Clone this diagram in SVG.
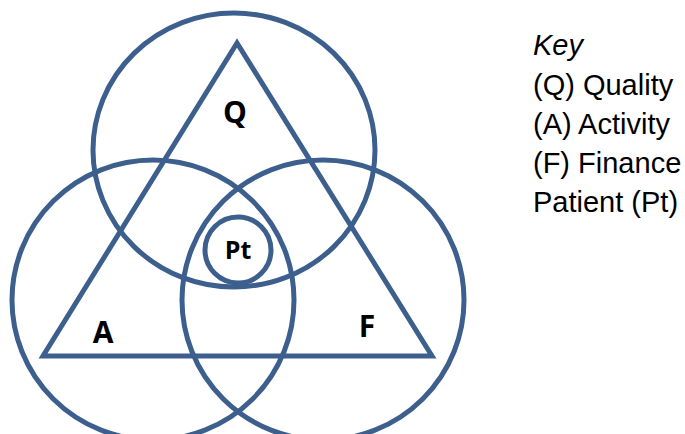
<svg xmlns="http://www.w3.org/2000/svg" width="685" height="434" viewBox="0 0 685 434">
<style>
.ln{fill:none;stroke:#3C5F8D;stroke-width:5}
.lbl{font-family:"Open Sans","Liberation Sans",sans-serif;font-weight:bold;fill:#000;text-anchor:middle}
.key{font-family:"Liberation Sans",Arial,sans-serif;font-size:29px;fill:#000}
</style>
<rect width="685" height="434" fill="#fff"/>
<g id="connectors">
<polygon class="ln" points="237,43 43,356 432,356"/>
</g>
<g id="quality">
<ellipse class="ln" cx="234" cy="150" rx="141" ry="137"/>
<text class="lbl" x="235" y="123" font-size="30">Q</text>
</g>
<g id="activity">
<ellipse class="ln" cx="153" cy="300" rx="141" ry="140"/>
<text class="lbl" x="103" y="343" font-size="30">A</text>
</g>
<g id="finance">
<ellipse class="ln" cx="323" cy="300" rx="141" ry="140"/>
<text class="lbl" x="367" y="337" font-size="30">F</text>
</g>
<g id="patient">
<ellipse class="ln" cx="238" cy="250" rx="33" ry="33"/>
<text class="lbl" x="238" y="259" font-size="25">Pt</text>
</g>
<g id="key">
<text class="key" x="533" y="55" font-style="italic">Key</text>
<text class="key" x="533" y="95">(Q) Quality</text>
<text class="key" x="533" y="134">(A) Activity</text>
<text class="key" x="533" y="173">(F) Finance</text>
<text class="key" x="533" y="212">Patient (Pt)</text>
</g>
</svg>
